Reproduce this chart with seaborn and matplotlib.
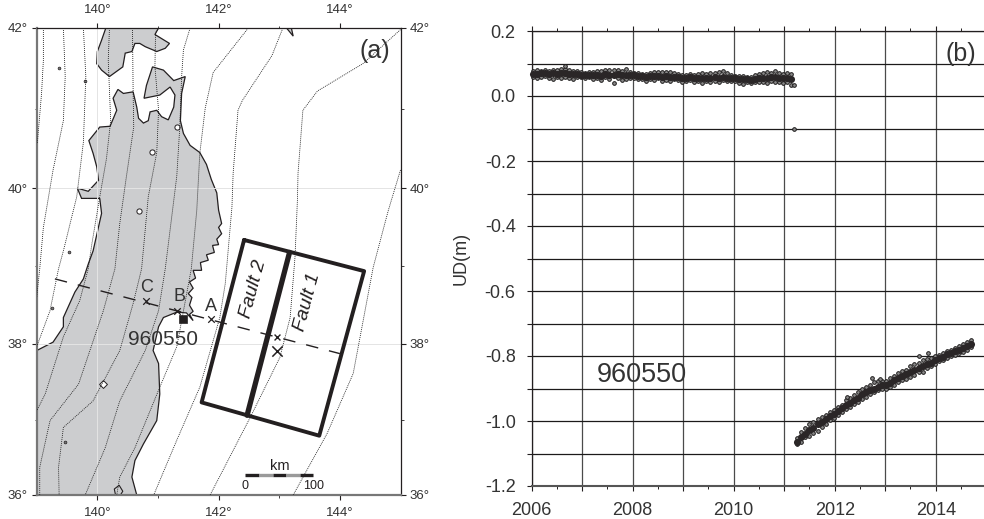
import numpy as np
import pandas as pd
import matplotlib
matplotlib.use("Agg")
import matplotlib.pyplot as plt
from matplotlib.ticker import FixedLocator, FixedFormatter
import seaborn as sns

# ---- panel (a): coast, lon/lat ----
hokkaido_lon = [141.01,140.95,141.19,141.12,140.98,140.79,140.70,140.62,140.57,140.46,140.42,140.20,140.07,139.99,140.0,140.07,140.14]
hokkaido_lat = [42,41.92,41.81,41.75,41.71,41.77,41.81,41.81,41.71,41.69,41.52,41.40,41.48,41.56,41.71,41.85,42]
honshu_lon = [140.34,140.43,140.59,140.65,140.68,140.76,140.84,140.87,140.98,141.06,141.17,141.26,141.28,141.20,141.03,140.77,140.81,140.91,141.09,141.26,141.45,141.39,141.37,141.42,141.53,141.69,141.80,141.88,141.97,142.0,142.05,
              142.0,142.05,141.97,142.0,141.9,141.93,141.8,141.83,141.7,141.72,141.58,141.62,141.52,141.58,141.50,141.56,141.52,141.58,141.52,141.58,141.47,141.31,141.09,141.01,140.92,141.01,141.03,140.98,140.76,140.62,140.57,140.65,
              139,139,139.27,139.44,139.44,139.63,139.77,139.85,139.93,140.07,140.04,139.74,139.67,139.85,140.02,139.99,139.93,139.86,140.04,140.21,140.32,140.26]
honshu_lat = [41.24,41.19,41.21,41.02,40.88,40.82,40.85,40.96,40.98,40.90,40.86,41.02,41.17,41.27,41.17,41.13,41.29,41.52,41.48,41.35,41.40,41.19,40.85,40.69,40.54,40.45,40.30,40.11,39.94,39.72,39.55,
              39.5,39.42,39.35,39.28,39.27,39.18,39.15,39.08,39.05,38.95,38.95,38.85,38.80,38.72,38.65,38.60,38.50,38.42,38.38,38.30,38.40,38.41,38.34,38.22,37.91,37.74,37.34,36.99,36.68,36.46,36.24,36,
              36,37.91,38.02,38.22,38.34,38.67,38.84,39.03,39.20,39.68,39.87,39.87,40,39.96,40.10,40.27,40.44,40.60,40.77,40.78,40.98,41.13]
erimo_lon = [143.12,143.23,143.20]
erimo_lat = [42,41.90,42]
shore_lon = [140.30,140.28,140.36,140.42,140.38]
shore_lat = [36.0,36.08,36.13,36.05,36.0]
lake_lon = [140.90,140.68,141.32]
lake_lat = [40.46,39.71,40.77]
lake2_lon = [140.09]
lake2_lat = [37.47]
isle_lon = [139.36,139.80,139.54,139.25,139.47]
isle_lat = [41.51,41.35,39.19,38.46,36.71]

# depth-style contours (lon list, lat list)
c1_lon = [139.11,139.11,139.08,139.01]
c1_lat = [42,41.60,41.19,40.56]
c2_lon = [139.44,139.47,139.44,139.27,139.11,139.05,139]
c2_lat = [42,41.40,40.85,40.23,39.50,38.97,38.60]
c3_lon = [139.77,139.81,139.77,139.66,139.44,139.36,139.22,139]
c3_lat = [42,41.40,40.58,39.89,39.20,38.97,38.43,37.96]
c4_lon = [140.20,140.18,140.22,140.15,140.04,139.91,139.85,139.71,139.44,139.14,139]
c4_lat = [42,41.60,40.85,40.37,39.89,39.29,38.97,38.56,38.09,37.34,37.12]
c5_lon = [140.58,140.59,140.60,140.48,140.37,140.29,140.10,139.69,139.22,139.05,139.05]
c5_lat = [42,41.23,40.77,40.15,39.55,38.97,38.43,37.47,36.99,36.37,36]
c6_lon = [141.01,140.96,140.95,141.01,140.98,140.84,140.73,140.59,140.37,139.93,139.44,139.36,139.37]
c6_lat = [42,41.94,41.52,40.98,40.45,39.89,38.97,38.52,37.91,37.25,36.90,36.37,36]
c7_lon = [141.53,141.42,141.39,141.36,141.31,141.12,141.01,140.79,140.37,140.13,139.80]
c7_lat = [42,41.73,41.40,40.77,40.15,38.97,38.43,37.91,37.25,36.63,36]
c8_lon = [142.49,141.91,141.78,141.69,141.64,141.55,141.31,141.03,140.62,140.37,140.32]
c8_lat = [42,41.45,41.01,40.44,39.72,38.97,37.96,37.43,36.63,36.24,36]
c9_lon = [143.06,142.88,142.39,142.32,142.24,142.22,142.11,142.02,141.69,141.31,140.93]
c9_lat = [42,41.66,41.10,40.98,40.19,39.76,38.78,38.34,37.43,36.73,36]
c10_lon = [145,144.38,143.63,143.39,143.31,143.30,143.26,143.18,143.01,142.52,141.86]
c10_lat = [41.98,41.56,41.22,40.98,40.19,39.85,39.12,38.34,37.82,37.03,36]
c11_lon = [145,144.80,144.55,144.22,143.79,143.23]
c11_lat = [40.23,39.72,38.99,37.61,36.82,36]
contours = [(c1_lon,c1_lat),(c2_lon,c2_lat),(c3_lon,c3_lat),(c4_lon,c4_lat),(c5_lon,c5_lat),(c6_lon,c6_lat),
            (c7_lon,c7_lat),(c8_lon,c8_lat),(c9_lon,c9_lat),(c10_lon,c10_lat),(c11_lon,c11_lat)]

fault_lon = [142.42,144.40,143.66,141.72,142.42]
fault_lat = [39.34,38.94,36.79,37.23,39.34]
split_lon = [143.17,142.47]
split_lat = [39.18,37.06]
profile_lon = [139.30,144.0]
profile_lat = [38.84,37.87]
cross_names = ["C","B","A"]
cross_lon = [140.80,141.31,141.88]
cross_lat = [38.55,38.43,38.32]
station_lon = [141.42]
station_lat = [38.32]
epic_lon = [142.96]
epic_lat = [37.91]
star_lon = [142.97]
star_lat = [38.09]
station_name = "960550"
lon_ticks = [140,142,144]
lat_ticks = [36,38,40,42]

# ---- panel (b): UD time series ----
t1 = [2006.02,2006.10,2006.18,2006.26,2006.34,2006.42,2006.50,2006.58,2006.66,2006.74,2006.82,2006.90,2006.98,
      2007.06,2007.14,2007.22,2007.30,2007.38,2007.46,2007.54,2007.62,2007.70,2007.78,2007.86,2007.94,
      2008.02,2008.10,2008.18,2008.26,2008.34,2008.42,2008.50,2008.58,2008.66,2008.74,2008.82,2008.90,2008.98,
      2009.06,2009.14,2009.22,2009.30,2009.38,2009.46,2009.54,2009.62,2009.70,2009.78,2009.86,2009.94,
      2010.02,2010.10,2010.18,2010.26,2010.34,2010.42,2010.50,2010.58,2010.66,2010.74,2010.82,2010.90,2010.98,2011.06,2011.14]
hi1 = [.078,.079,.077,.081,.078,.080,.079,.082,.083,.080,.078,.076,.074,
       .072,.075,.073,.078,.076,.080,.079,.081,.080,.077,.082,.074,
       .071,.070,.069,.068,.071,.074,.073,.075,.074,.073,.072,.068,.066,
       .066,.067,.066,.069,.071,.068,.072,.070,.074,.077,.070,.066,
       .063,.062,.061,.060,.058,.064,.067,.070,.073,.071,.076,.072,.068,.070,.068]
mid1 = [.068,.067,.070,.071,.069,.070,.068,.071,.070,.069,.067,.068,.066,
        .065,.066,.064,.066,.063,.067,.066,.065,.068,.064,.066,.066,
        .064,.063,.062,.060,.061,.062,.063,.060,.061,.059,.060,.058,.056,
        .056,.057,.055,.056,.054,.056,.055,.057,.056,.057,.055,.054,
        .054,.053,.052,.051,.050,.052,.054,.056,.056,.058,.057,.056,.054,.056,.052]
lo1 = [.058,.056,.059,.062,.055,.052,.060,.054,.058,.056,.053,.057,.059,
       .056,.058,.052,.055,.050,.057,.053,.040,.054,.050,.051,.056,
       .055,.051,.053,.047,.052,.049,.054,.046,.050,.047,.053,.048,.044,
       .045,.048,.043,.047,.041,.045,.043,.047,.044,.049,.046,.045,
       .046,.040,.038,.042,.040,.043,.042,.044,.041,.045,.042,.044,.041,.043,.035]
t2 = [2011.26,2011.34,2011.42,2011.50,2011.58,2011.66,2011.74,2011.82,2011.90,2011.98,
      2012.06,2012.14,2012.22,2012.30,2012.38,2012.46,2012.54,2012.62,2012.70,2012.78,2012.86,2012.94,
      2013.02,2013.10,2013.18,2013.26,2013.34,2013.42,2013.50,2013.58,2013.66,2013.74,2013.82,2013.90,2013.98,
      2014.06,2014.14,2014.22,2014.30,2014.38,2014.46,2014.54,2014.62,2014.70]
hi2 = [-1.052,-1.035,-1.022,-1.010,-1.002,-.995,-.988,-.982,-.972,-.966,
       -.958,-.950,-.936,-.928,-.920,-.912,-.900,-.895,-.888,-.880,-.878,-.876,
       -.878,-.868,-.862,-.852,-.845,-.842,-.832,-.825,-.822,-.812,-.810,-.806,-.800,
       -.798,-.790,-.785,-.780,-.774,-.770,-.764,-.758,-.750]
mid2 = [-1.065,-1.050,-1.040,-1.028,-1.022,-1.010,-1.002,-.995,-.985,-.978,
        -.970,-.960,-.950,-.945,-.935,-.928,-.918,-.912,-.905,-.900,-.895,-.890,
        -.888,-.882,-.875,-.868,-.860,-.856,-.848,-.842,-.838,-.830,-.826,-.820,-.812,
        -.806,-.802,-.795,-.790,-.784,-.782,-.776,-.770,-.762]
lo2 = [-1.072,-1.065,-1.050,-1.045,-1.038,-1.030,-1.018,-1.008,-.998,-.990,
       -.982,-.972,-.962,-.958,-.948,-.940,-.932,-.925,-.918,-.912,-.905,-.900,
       -.900,-.895,-.888,-.880,-.875,-.870,-.865,-.858,-.850,-.848,-.838,-.832,-.824,
       -.816,-.812,-.806,-.800,-.796,-.792,-.788,-.780,-.772]
out_t = [2006.66,2011.19,2011.19,2012.24,2012.73,2012.90,2013.67,2013.85]
out_v = [.093,-.10,.035,-.925,-.869,-.872,-.80,-.79]
year_ticks = [2006,2007,2008,2009,2010,2011,2012,2013,2014]
year_labels = ["2006","","2008","","2010","","2012","","2014"]
ud_ticks = [0.2,0.1,0.0,-0.1,-0.2,-0.3,-0.4,-0.5,-0.6,-0.7,-0.8,-0.9,-1.0,-1.1,-1.2]
ud_labels = ["0.2","","0.0","","-0.2","","-0.4","","-0.6","","-0.8","","-1.0","","-1.2"]

sns.set_theme(style="white")
plt.rcParams["font.family"] = ["Liberation Sans", "DejaVu Sans"]
INK = "#231f20"
W, H = 984, 519
fig = plt.figure(figsize=(W/100, H/100), dpi=100, facecolor="white")

# ---------- map ----------
ax = fig.add_axes([36.7/W, 1-495/H, (400.5-36.7)/W, (495-28)/H])
ax.set_xlim(139, 145)
ax.set_yscale("function", functions=(lambda v: np.log(np.tan(np.pi/4+np.radians(v)/2)),
                                     lambda m: np.degrees(2*np.arctan(np.exp(m))-np.pi/2)))
ax.set_ylim(36, 42)
LAND = "#cccdcf"
for lo, la in [(hokkaido_lon,hokkaido_lat),(honshu_lon,honshu_lat),(erimo_lon,erimo_lat)]:
    ax.fill(lo, la, facecolor=LAND, edgecolor=INK, lw=0.9, zorder=1)
ax.plot(shore_lon, shore_lat, color=INK, lw=0.8, zorder=2)
for v in lat_ticks[1:3]:
    ax.axhline(v, color="#e4e4e4", lw=0.7, zorder=1.5)
ax.axvline(140, color="#e4e4e4", lw=0.7, zorder=1.5)
sns.scatterplot(x=lake_lon, y=lake_lat, marker="o", s=14, color="white", edgecolor=INK, linewidth=0.7, ax=ax, zorder=2, legend=False)
sns.scatterplot(x=lake2_lon, y=lake2_lat, marker="D", s=16, color="white", edgecolor=INK, linewidth=0.7, ax=ax, zorder=2, legend=False)
sns.scatterplot(x=isle_lon, y=isle_lat, marker="o", s=4, color="#777777", edgecolor=INK, linewidth=0.5, ax=ax, zorder=3, legend=False)
for lo, la in contours:
    sns.lineplot(x=lo, y=la, sort=False, estimator=None, color="#222222", lw=0.6, ls=(0,(1.2,1.2)), ax=ax, zorder=3, legend=False)
sns.lineplot(x=profile_lon, y=profile_lat, sort=False, estimator=None, color=INK, lw=1.0, ls=(0,(9,8)), ax=ax, zorder=3.5, legend=False)
sns.lineplot(x=fault_lon, y=fault_lat, sort=False, estimator=None, color=INK, lw=2.8, ax=ax, zorder=4, legend=False)
sns.lineplot(x=split_lon, y=split_lat, sort=False, estimator=None, color=INK, lw=3.8, ax=ax, zorder=4, legend=False)
sns.scatterplot(x=station_lon, y=station_lat, marker="s", s=36, color=INK, edgecolor=INK, ax=ax, zorder=5, legend=False)
sns.scatterplot(x=cross_lon, y=cross_lat, marker="x", s=22, color=INK, linewidth=0.9, ax=ax, zorder=5, legend=False)
sns.scatterplot(x=epic_lon, y=epic_lat, marker="x", s=55, color=INK, linewidth=1.1, ax=ax, zorder=5, legend=False)
sns.scatterplot(x=star_lon, y=star_lat, marker="x", s=18, color=INK, linewidth=1.0, ax=ax, zorder=5, legend=False)
for n, lo, la in zip(cross_names, [140.81,141.36,141.88], [38.73,38.61,38.48]):
    ax.text(lo, la, n, ha="center", va="center", fontsize=13, color="#333333", zorder=6)
ax.text(141.09, 38.05, station_name, ha="center", va="center", fontsize=15, color="#333333", zorder=6)
ax.text(142.58, 38.71, "Fault 2", rotation=75, style="italic", ha="center", va="center", fontsize=14, color=INK, zorder=6)
ax.text(143.46, 38.54, "Fault 1", rotation=75, style="italic", ha="center", va="center", fontsize=14, color=INK, zorder=6)
ax.text(144.57, 41.72, "(a)", ha="center", va="center", fontsize=18, color="#333333", zorder=6)
# scale bar
bar_edges = [142.44,142.665,142.89,143.11,143.335,143.56]
for i in range(5):
    ax.plot(bar_edges[i:i+2], [36.27,36.27], color=INK if i%2==0 else "#9a9a9a", lw=2.4, solid_capstyle="butt", zorder=6)
ax.text(143.01, 36.39, "km", ha="center", va="center", fontsize=10.5, color=INK)
ax.text(142.44, 36.12, "0", ha="center", va="center", fontsize=9, color=INK)
ax.text(143.56, 36.12, "100", ha="center", va="center", fontsize=9, color=INK)

ax.xaxis.set_major_locator(FixedLocator(lon_ticks))
ax.xaxis.set_minor_locator(FixedLocator([141,143]))
ax.xaxis.set_major_formatter(FixedFormatter([f"{v}°" for v in lon_ticks]))
ax.xaxis.set_minor_formatter(FixedFormatter([]))
ax.yaxis.set_major_locator(FixedLocator(lat_ticks))
ax.yaxis.set_minor_locator(FixedLocator([37,39,41]))
ax.yaxis.set_major_formatter(FixedFormatter([f"{v}°" for v in lat_ticks]))
ax.yaxis.set_minor_formatter(FixedFormatter([]))
ax.tick_params(which="major", direction="out", length=3.5, width=0.8, color=INK, labelsize=9.5, labelcolor="#333333",
               top=True, bottom=True, left=True, right=True, labeltop=True, labelbottom=True, labelleft=True, labelright=True, pad=3)
ax.tick_params(axis="x", which="major", pad=5)
ax.tick_params(which="minor", direction="out", length=1.8, width=0.6, color=INK, top=True, bottom=True, left=True, right=True)
for s in ["top","right"]:
    ax.spines[s].set(color=INK, lw=0.9, visible=True)
for s in ["left","bottom"]:
    ax.spines[s].set(color="#777777", lw=1.6, visible=True)

# ---------- time series ----------
bx = fig.add_axes([531.7/W, 1-486/H, (984-531.7)/W, (486-31)/H])
x_max = 2006 + (984-531.7)/50.5
rim = pd.concat([
    pd.DataFrame({"year": t1, "ud": hi1}), pd.DataFrame({"year": t1, "ud": lo1}),
    pd.DataFrame({"year": t2, "ud": hi2}), pd.DataFrame({"year": t2, "ud": lo2}),
    pd.DataFrame({"year": out_t, "ud": out_v}),
], ignore_index=True)
core = pd.concat([pd.DataFrame({"year": t1, "ud": mid1}), pd.DataFrame({"year": t2, "ud": mid2})], ignore_index=True)
sns.scatterplot(data=rim, x="year", y="ud", marker="o", s=7, color="#8a8a8a", edgecolor="#1c1a1a", linewidth=0.7,
                ax=bx, zorder=3, legend=False, clip_on=False)
sns.scatterplot(data=core, x="year", y="ud", marker="o", s=26, color="#2a2627", edgecolor="#2a2627", linewidth=0,
                ax=bx, zorder=3.5, legend=False, clip_on=False)
bx.set_xlim(2006, x_max)
bx.set_ylim(-1.2, 0.2)
bx.set_xlabel("")
bx.set_ylabel("")
bx.xaxis.set_major_locator(FixedLocator(year_ticks))
bx.xaxis.set_major_formatter(FixedFormatter(year_labels))
bx.xaxis.set_minor_locator(FixedLocator([y+0.5 for y in year_ticks]))
bx.yaxis.set_major_locator(FixedLocator(ud_ticks))
bx.yaxis.set_major_formatter(FixedFormatter(ud_labels))
bx.grid(True, which="major", axis="x", color="#4a4a4a", lw=0.9, zorder=1)
bx.grid(True, which="major", axis="y", color="#1c1a1a", lw=0.9, zorder=1)
bx.set_axisbelow(True)
bx.tick_params(which="major", direction="out", length=3.5, width=0.8, color=INK, labelsize=13, labelcolor="#333333",
               top=True, bottom=True, left=True, right=False, pad=8)
bx.tick_params(which="minor", direction="out", length=2, width=0.7, color=INK, top=True, bottom=True, left=False, right=False)
bx.spines["right"].set_visible(False)
bx.spines["left"].set(color=INK, lw=0.9, visible=True)
bx.spines["top"].set(color=INK, lw=0.9, visible=True)
bx.spines["bottom"].set(color="#555555", lw=1.5, visible=True)
bx.text(2008.18, -0.858, station_name, ha="center", va="center", fontsize=19.5, color="#333333", zorder=6)
bx.text(2014.5, 0.13, "(b)", ha="center", va="center", fontsize=18, color="#333333", zorder=6)
fig.text(461/W, 1-258/H, "UD(m)", rotation=90, ha="center", va="center", fontsize=13, color="#333333")

fig.savefig("out.png", dpi=100, facecolor="white")
